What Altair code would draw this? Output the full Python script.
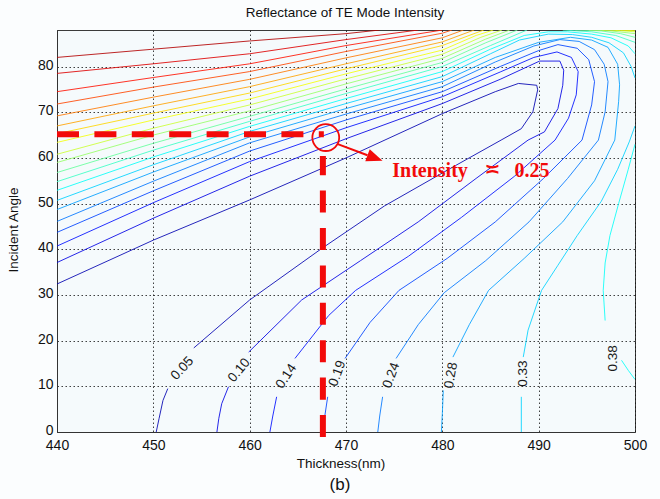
import altair as alt
import pandas as pd

# ---------------- data ----------------
levels = [0.05, 0.10, 0.14, 0.19, 0.24, 0.28, 0.33, 0.38, 0.43, 0.47,
          0.52, 0.57, 0.61, 0.66, 0.71, 0.75, 0.80, 0.85, 0.90, 0.94]

# contour pieces: (thickness nm, incident angle deg)
c00_a = [(440, 32.4), (450, 42.0), (460, 50.8), (470, 60.0), (480, 69.7), (485.5, 74.5), (487.9, 76.3),
         (489.8, 75.9), (489.9, 74.9), (489.4, 70.1), (488.2, 66.4), (486.1, 63.9), (480.5, 57.3),
         (474.0, 49.5), (467.5, 40.2), (460.0, 28.9), (454.2, 18.4)]
c00_b = [(451.5, 9.5), (451.0, 6.9), (450.6, 3.0), (450.3, 0)]
c01_a = [(440, 37.1), (450, 46.8), (460, 56.0), (470, 64.2), (480, 71.9), (486, 77.2), (490.1, 81.2),
         (492.2, 81.2), (492.6, 79.2), (492.5, 75.9), (492.0, 70.8), (490.6, 65.7), (488.9, 63.9),
         (483.5, 55.5), (477.5, 46.0), (471.5, 37.5), (465.4, 28.9), (459.9, 17.5)]
c01_b = [(457.8, 9.9), (457.1, 6.2), (456.8, 3.0), (456.6, 0)]
c02_a = [(440, 40.7), (450, 50.2), (460, 59.2), (470, 66.6), (480, 73.4), (486, 78.8), (489.5, 82.0),
         (491.9, 83.2), (493.4, 82.0), (494.1, 78.9), (493.9, 73.8), (493.1, 68.7), (491.7, 63.9),
         (487.5, 56.0), (482.0, 47.0), (476.5, 38.5), (471.0, 31.0), (468.2, 25.5), (464.7, 16.1)]
c02_b = [(462.8, 7.7), (462.4, 3.5), (462.1, 0)]
c03_a = [(440, 43.7), (450, 52.8), (460, 61.5), (470, 68.3), (480, 74.5), (486, 80.0), (490, 83.5),
         (492, 84.8), (494, 84.0), (495.2, 81.5), (495.8, 76.7), (495.5, 71.6), (494.5, 63.9),
         (490.5, 55.5), (485.5, 46.0), (480.5, 38.0), (475.5, 31.0), (472.5, 24.0), (469.9, 16.1)]
c03_b = [(468.1, 7.7), (467.8, 3.5), (467.7, 0)]
c04_a = [(440, 46.1), (450, 54.9), (460, 63.3), (470, 69.6), (480, 75.6), (485.5, 81.0), (489.5, 84.5),
         (492.2, 85.9), (494.2, 85.5), (495.8, 83.7), (496.8, 80.5), (497.2, 76.7), (496.9, 70.1),
         (496.2, 63.9), (493.0, 55.5), (489.0, 46.0), (484.5, 37.5), (480.2, 30.5), (477.5, 23.5),
         (475.2, 16.1)]
c04_b = [(473.8, 7.7), (473.5, 3.5), (473.3, 0)]
c05_a = [(440, 48.7), (450, 56.9), (460, 64.6), (470, 70.8), (480, 76.7), (485.5, 82.0), (490, 85.3),
         (493.3, 86.4), (495.5, 85.8), (497.2, 84.2), (498.2, 80.5), (498.4, 76.0), (498.3, 72.3),
         (497.9, 63.9), (495.8, 55.0), (492.5, 46.0), (488.5, 38.0), (484.8, 31.0), (482.8, 23.5),
         (481.1, 16.4)]
c05_b = [(480.1, 9.1), (480.0, 4.0), (479.9, 0)]
c06_a = [(440, 50.7), (450, 58.5), (460, 65.8), (470, 71.9), (480, 77.8), (485, 82.8), (488, 85.8),
         (491, 87.1), (493.5, 87.0), (495.5, 86.4), (497.3, 85.2), (498.8, 83.0), (499.6, 80.0), (500, 77.5)]
c06_b = [(500, 67.0), (499.4, 63.5), (498.2, 57.5), (496.5, 50.5), (494.0, 43.0), (492.0, 36.5),
         (490.3, 31.0), (488.9, 22.3), (488.4, 16.4)]
c06_c = [(488.2, 7.7), (488.2, 3.5), (488.2, 0)]
c07_a = [(440, 52.9), (450, 60.2), (460, 66.9), (470, 73.0), (480, 78.9), (485, 83.8), (488.5, 86.8),
         (491, 87.6), (493, 87.6), (495.5, 87.1), (497.5, 86.3), (499.3, 84.5), (500, 82.8)]
c07_b = [(500, 63.0), (499.3, 57.5), (498.3, 50.0), (497.4, 43.0), (496.9, 37.0), (496.7, 31.0), (496.9, 24.4)]
c07_c = [(498.6, 15.7), (499.3, 13.5), (500, 11.5)]
c08_a = [(440, 54.8), (450, 61.7), (460, 68.0), (470, 74.1), (480, 80.0), (485, 84.6), (488.8, 88.0)]
c08_b = [(492.5, 88.0), (495.5, 87.6), (498, 86.8), (500, 85.3)]
c09_a = [(440, 56.8), (450, 63.2), (460, 69.1), (470, 75.1), (480, 80.9), (484.5, 85.2), (487.8, 88.0)]
c09_b = [(493.8, 88.0), (496.5, 87.8), (498.5, 87.2), (500, 86.4)]
c10_a = [(440, 59.0), (450, 65.0), (460, 70.3), (470, 76.2), (480, 81.8), (484.5, 86.0), (487.0, 88.0)]
c10_b = [(495.2, 88.0), (497.5, 87.8), (500, 87.2)]
c11_a = [(440, 60.8), (450, 66.5), (460, 71.6), (470, 77.3), (480, 82.7), (484, 86.4), (486.2, 88.0)]
c11_b = [(496.6, 88.0), (498.5, 87.85), (500, 87.6)]
c12_a = [(440, 63.4), (450, 68.3), (460, 72.9), (470, 78.4), (480, 83.6), (483.5, 86.8), (485.3, 88.0)]
c12_b = [(498.0, 88.0), (500, 87.85)]
c13_a = [(440, 65.3), (450, 69.8), (460, 74.2), (470, 79.5), (480, 84.6), (484.3, 88.0)]
c14_a = [(440, 67.0), (450, 71.4), (460, 75.6), (470, 80.6), (480, 85.4), (483.3, 88.0)]
c15_a = [(440, 69.2), (450, 73.3), (460, 77.2), (470, 81.9), (480, 86.3), (482.2, 88.0)]
c16_a = [(440, 71.8), (450, 75.5), (460, 78.9), (470, 83.3), (480, 87.3), (481.0, 88.0)]
c17_a = [(440, 74.5), (450, 77.6), (460, 80.6), (470, 84.6), (480, 88.0)]
c18_a = [(440, 78.5), (450, 80.6), (460, 82.8), (470, 85.9), (477.5, 88.0)]
c19_a = [(440, 82.0), (450, 83.8), (460, 85.6), (470, 87.2), (473.5, 88.0)]

pieces = [(0, c00_a), (0, c00_b), (1, c01_a), (1, c01_b), (2, c02_a), (2, c02_b),
          (3, c03_a), (3, c03_b), (4, c04_a), (4, c04_b), (5, c05_a), (5, c05_b),
          (6, c06_a), (6, c06_b), (6, c06_c), (7, c07_a), (7, c07_b), (7, c07_c),
          (8, c08_a), (8, c08_b), (9, c09_a), (9, c09_b), (10, c10_a), (10, c10_b),
          (11, c11_a), (11, c11_b), (12, c12_a), (12, c12_b), (13, c13_a), (14, c14_a),
          (15, c15_a), (16, c16_a), (17, c17_a), (18, c18_a), (19, c19_a)]

# inline contour labels
label_text = ["0.05", "0.10", "0.14", "0.19", "0.24", "0.28", "0.33", "0.38"]
label_x = [453.0, 458.9, 463.8, 469.1, 474.7, 480.9, 488.4, 497.7]
label_y = [13.9, 13.5, 12.2, 12.8, 12.4, 12.4, 12.8, 16.1]
label_angle = [313, 310, 304, 290, 290, 280, 270, 270]

# annotation (read-off point)
read_x = 467.6
read_y = 65.2
circle_x = [467.9]
circle_y = [64.45]
arrow_from = (469.15, 63.02)
arrow_to = (472.23, 60.59)
arrow_head = (473.01, 59.98)
note_parts = ["Intensity", "\u224d", "0.25"]
note_x = [474.8, 485.2, 487.5]
note_y = [55.9, 57.4, 55.9]

# ---------------- styling ----------------
def jet(v):
    c = lambda t: max(0.0, min(1.0, t))
    r = c(min(4 * v - 1.5, -4 * v + 4.5))
    g = c(min(4 * v - 0.5, -4 * v + 3.5))
    b = c(min(4 * v + 0.5, -4 * v + 2.5))
    return "#%02x%02x%02x" % (round(r * 255), round(g * 255), round(b * 255))

zmin, zmax = 0.003, 0.99
lvl_names = ["L%02d" % k for k in range(len(levels))]
lvl_colors = [jet((lv - zmin) / (zmax - zmin)) for lv in levels]

rows = []
for pid, (k, pts) in enumerate(pieces):
    for i, (x, y) in enumerate(pts):
        rows.append({"x": x, "y": y, "piece": pid, "ord": i, "lvl": lvl_names[k]})
df = pd.DataFrame(rows)

FONT = "Liberation Sans"
xs = alt.Scale(domain=[440, 500], nice=False, zero=False)
ys = alt.Scale(domain=[0, 88], nice=False, zero=False)
grid_kw = dict(title=None, grid=True, gridDash=[1.5, 2.5], gridColor="#111111", gridOpacity=0.8,
               gridWidth=1, ticks=False, domainColor="#333333", labelFont=FONT, labelFontSize=14,
               labelColor="#111111", labelOverlap=False, labelFlush=False)


def X(field="x"):
    return alt.X(field + ":Q", scale=xs,
                 axis=alt.Axis(values=[440, 450, 460, 470, 480, 490, 500], labelPadding=6, **grid_kw))


def Y(field="y"):
    return alt.Y(field + ":Q", scale=ys,
                 axis=alt.Axis(values=[0, 10, 20, 30, 40, 50, 60, 70, 80], labelPadding=4,
                               labelOffset=-1.5, **grid_kw))


lines = alt.Chart(df).mark_line(strokeWidth=1.0, opacity=0.85, clip=True).encode(
    x=X(), y=Y(),
    color=alt.Color("lvl:N", scale=alt.Scale(domain=lvl_names, range=lvl_colors), legend=None),
    detail="piece:N",
    order="ord:Q",
)

lab_df = pd.DataFrame({"x": label_x, "y": label_y, "t": label_text, "a": label_angle})
labels = alt.Chart(lab_df).mark_text(font=FONT, fontSize=13.5, color="#1a1a1a",
                                     align="center", baseline="middle").encode(
    x=X(), y=Y(), text="t:N", angle=alt.Angle("a:Q", scale=None))

RED = "#f20a0a"
guide_df = pd.DataFrame({"x": [440, read_x], "x2": [read_x + 0.1, read_x],
                         "y": [read_y, -1.1], "y2": [read_y, 60.4]})
guides = alt.Chart(guide_df).mark_rule(color=RED, strokeWidth=6, strokeDash=[22, 15.4]).encode(
    x=X(), x2="x2:Q", y=Y(), y2="y2:Q")

circ = alt.Chart(pd.DataFrame({"x": circle_x, "y": circle_y})).mark_point(
    shape="circle", filled=False, size=720, color=RED, strokeWidth=1.8, opacity=1).encode(x=X(), y=Y())

shaft = alt.Chart(pd.DataFrame({"x": [arrow_from[0]], "y": [arrow_from[1]],
                                "x2": [arrow_to[0]], "y2": [arrow_to[1]]})).mark_rule(
    color=RED, strokeWidth=2).encode(x=X(), y=Y(), x2="x2:Q", y2="y2:Q")

head = alt.Chart(pd.DataFrame({"x": [arrow_head[0]], "y": [arrow_head[1]]})).mark_point(
    shape="M-1,-0.8L1,0L-1,0.8Z", filled=True, size=256, angle=20.5, color=RED, opacity=1).encode(
    x=X(), y=Y())

note1 = alt.Chart(pd.DataFrame({"x": [note_x[0]], "y": [note_y[0]], "t": [note_parts[0]]})).mark_text(
    font="Liberation Serif", fontWeight="bold", fontSize=20, color=RED, align="left",
    baseline="alphabetic").encode(x=X(), y=Y(), text="t:N")
note2 = alt.Chart(pd.DataFrame({"x": [note_x[1]], "y": [note_y[1]], "t": [note_parts[1]]})).mark_text(
    font="DejaVu Sans", fontWeight="bold", fontSize=19, color=RED, align="center",
    baseline="middle").encode(x=X(), y=Y(), text="t:N")
note3 = alt.Chart(pd.DataFrame({"x": [note_x[2]], "y": [note_y[2]], "t": [note_parts[2]]})).mark_text(
    font="Liberation Serif", fontWeight="bold", fontSize=20, color=RED, align="left",
    baseline="alphabetic").encode(x=X(), y=Y(), text="t:N")

# titles (plot area is 578 x 402, starting at 57,30)
def txt(s, px, py, size, angle=0):
    return alt.Chart(pd.DataFrame({"t": [s]})).mark_text(
        font=FONT, fontSize=size, color="#111111", align="center", baseline="middle",
        angle=angle).encode(text="t:N", x=alt.value(px), y=alt.value(py))

title = txt("Reflectance of TE Mode Intensity", 288, -17.5, 13.5)
xtitle = txt("Thickness(nm)", 284, 434, 13.5)
ytitle = txt("Incident Angle", -43, 200, 13.5, angle=270)
sub = txt("(b)", 283, 455, 17)

chart = alt.layer(lines, labels, guides, circ, shaft, head, note1, note2, note3,
                  title, xtitle, ytitle, sub).properties(
    width=578, height=402,
    autosize=alt.AutoSizeParams(type="none"),
    padding={"left": 57, "top": 30, "right": 25, "bottom": 67},
    background="#fbfdfe",
).configure_view(fill="#f5fafc", stroke="#3a3a3a", strokeWidth=1)

chart.save("out.html", embed_options={"renderer": "svg", "actions": False})
